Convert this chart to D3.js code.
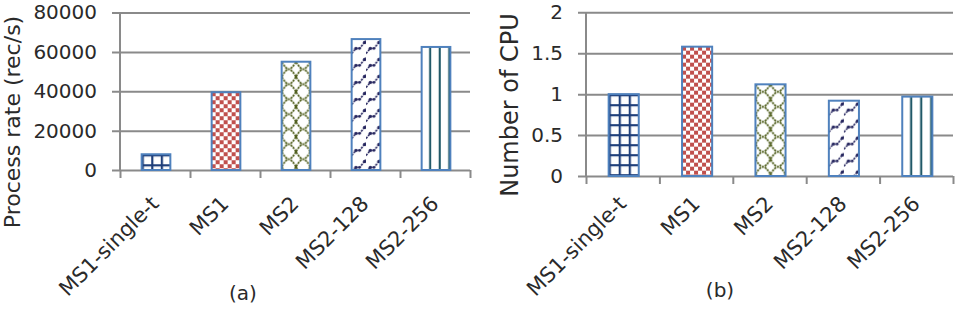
<!DOCTYPE html>
<html>
<head>
<meta charset="utf-8">
<script src="https://cdn.jsdelivr.net/npm/d3@7"></script>
<style>
  html, body { margin: 0; padding: 0; background: #fff; }
  svg { display: block; }
  text { font-family: "DejaVu Sans", sans-serif; fill: #2a2a2a; }
</style>
</head>
<body>
<svg id="chart" width="960" height="311"></svg>
<script>
// ---- data ----
const categories = ["MS1-single-t", "MS1", "MS2", "MS2-128", "MS2-256"];
const processRate = [8000, 39500, 55000, 66500, 62500];
const cpuCount = [1.0, 1.58, 1.12, 0.92, 0.97];
const rateTicks = [0, 20000, 40000, 60000, 80000];
const cpuTicks = [0, 0.5, 1, 1.5, 2];
const rateTickLabels = ["0", "20000", "40000", "60000", "80000"];
const cpuTickLabels = ["0", "0.5", "1", "1.5", "2"];
const patternKinds = ["grid", "checker", "trellis", "zigzag", "vlines"];

const svg = d3.select("#chart");
const defs = svg.append("defs");

function makePattern(id, kind, bx, by, bw) {
  const p = defs.append("pattern").attr("id", id).attr("patternUnits", "userSpaceOnUse");
  if (kind === "grid") {
    const w = bw / 3, h = 10;
    p.attr("x", bx).attr("y", by).attr("width", w).attr("height", h);
    p.append("rect").attr("width", w).attr("height", h).attr("fill", "#fff");
    p.append("rect").attr("x", 0).attr("y", 0).attr("width", 2.2).attr("height", h).attr("fill", "#1f3f7a");
    p.append("rect").attr("x", 0).attr("y", 0).attr("width", w).attr("height", 2.2).attr("fill", "#1f3f7a");
  } else if (kind === "checker") {
    p.attr("x", bx).attr("y", by).attr("width", 8).attr("height", 8);
    p.append("rect").attr("width", 8).attr("height", 8).attr("fill", "#fff");
    p.append("rect").attr("x", 0).attr("y", 0).attr("width", 4).attr("height", 4).attr("fill", "#c0504d");
    p.append("rect").attr("x", 4).attr("y", 4).attr("width", 4).attr("height", 4).attr("fill", "#c0504d");
  } else if (kind === "trellis") {
    const w = bw / 2, h = 15;
    p.attr("x", bx).attr("y", by).attr("width", w).attr("height", h);
    p.append("rect").attr("width", w).attr("height", h).attr("fill", "#fff");
    p.append("path")
      .attr("d", `M0,0 Q${w * 0.3},${h * 0.5} ${w * 0.5},${h * 0.5} Q${w * 0.7},${h * 0.5} ${w},0 M0,${h} Q${w * 0.3},${h * 0.5} ${w * 0.5},${h * 0.5} Q${w * 0.7},${h * 0.5} ${w},${h}`)
      .attr("fill", "none").attr("stroke", "#4f5e1c").attr("stroke-width", 1.8)
      .attr("stroke-dasharray", "2.2,1");
  } else if (kind === "zigzag") {
    const w = bw / 2, h = 17;
    p.attr("x", bx).attr("y", by).attr("width", w).attr("height", h);
    p.append("rect").attr("width", w).attr("height", h).attr("fill", "#fff");
    p.append("path")
      .attr("d", `M0,${h * 0.85} L${w * 0.3},${h * 0.55} L${w * 0.55},${h * 0.55} L${w},${h * 0.1}`)
      .attr("fill", "none").attr("stroke", "#25255e").attr("stroke-width", 1.6)
      .attr("stroke-dasharray", "2.2,1");
    p.append("circle").attr("cx", w * 0.3).attr("cy", h * 0.55).attr("r", 1.7).attr("fill", "#25255e");
    p.append("circle").attr("cx", w * 0.55).attr("cy", h * 0.55).attr("r", 1.4).attr("fill", "#25255e");
    p.append("circle").attr("cx", w * 0.9).attr("cy", h * 0.2).attr("r", 1.7).attr("fill", "#25255e");
  } else if (kind === "vlines") {
    const w = bw / 3, h = 10;
    p.attr("x", bx).attr("y", by).attr("width", w).attr("height", h);
    p.append("rect").attr("width", w).attr("height", h).attr("fill", "#fff");
    p.append("rect").attr("x", w * 0.78).attr("y", 0).attr("width", 2.4).attr("height", h).attr("fill", "#215968");
  }
}

function drawChart(cfg) {
  const g = svg.append("g");
  const x = d3.scaleBand().domain(categories).range([cfg.x0, cfg.x1]).padding(0);
  const edges = d3.scaleLinear().domain([0, categories.length]).range([cfg.x0, cfg.x1]);
  const y = d3.scaleLinear().domain([0, cfg.max]).range([cfg.yBottom, cfg.yTop]);
  const plotW = cfg.x1 - cfg.x0;

  // y axis with gridlines
  const ya = g.append("g").attr("transform", `translate(${cfg.x0},0)`)
    .call(d3.axisLeft(y).tickValues(cfg.ticks).tickFormat((d, i) => cfg.tickLabels[i])
      .tickSizeInner(-plotW).tickSizeOuter(0).tickPadding(23));
  ya.select(".domain").remove();
  ya.selectAll(".tick line").attr("x1", -8).attr("stroke", "#8a8a8a").attr("stroke-width", 2);
  ya.selectAll(".tick text").attr("font-size", 20).attr("font-family", "DejaVu Sans").attr("fill", "#2a2a2a");
  // vertical axis line
  g.append("line").attr("x1", cfg.x0).attr("x2", cfg.x0).attr("y1", cfg.yTop).attr("y2", cfg.yBottom)
    .attr("stroke", "#8a8a8a").attr("stroke-width", 2);

  // x axis tick marks at category boundaries
  const xa = g.append("g").attr("transform", `translate(0,${cfg.yBottom})`)
    .call(d3.axisBottom(edges).tickValues(d3.range(categories.length + 1)).tickFormat("").tickSizeInner(8).tickSizeOuter(0));
  xa.select(".domain").remove();
  xa.selectAll(".tick line").attr("stroke", "#8a8a8a").attr("stroke-width", 2);

  // bars
  const bw = x.bandwidth() * 0.41;
  cfg.values.forEach((v, i) => {
    const bx = x(categories[i]) + x.bandwidth() / 2 - bw / 2 + 1;
    const by = y(v);
    const id = `${cfg.id}-p${i}`;
    makePattern(id, patternKinds[i], bx, by, bw);
    g.append("rect").attr("x", bx).attr("y", by).attr("width", bw).attr("height", y(0) - by)
      .attr("fill", `url(#${id})`).attr("stroke", "#4f81bd").attr("stroke-width", 2);
  });

  // category labels
  categories.forEach((c) => {
    const cx = x(c) + x.bandwidth() / 2 + 5;
    g.append("text").attr("transform", `translate(${cx},${cfg.labelY}) rotate(-45)`)
      .attr("text-anchor", "end").attr("font-size", 21).text(c);
  });

  // y title
  g.append("text").attr("transform", `translate(${cfg.titleX},${cfg.titleY}) rotate(-90)`)
    .attr("text-anchor", "middle").attr("font-size", cfg.titleSize).text(cfg.title);

  // caption
  g.append("text").attr("x", cfg.capX).attr("y", cfg.capY).attr("text-anchor", "middle")
    .attr("font-size", 20).text(cfg.caption);
}

drawChart({
  id: "a", x0: 120, x1: 470, yTop: 12.5, yBottom: 170, max: 80000,
  values: processRate, ticks: rateTicks, tickLabels: rateTickLabels,
  labelY: 205, title: "Process rate (rec/s)", titleX: 20, titleY: 122, titleSize: 22,
  caption: "(a)", capX: 243, capY: 300
});
drawChart({
  id: "b", x0: 586, x1: 953, yTop: 12.3, yBottom: 176, max: 2,
  values: cpuCount, ticks: cpuTicks, tickLabels: cpuTickLabels,
  labelY: 205, title: "Number of CPU", titleX: 518, titleY: 105, titleSize: 24,
  caption: "(b)", capX: 720, capY: 297
});
</script>
</body>
</html>
